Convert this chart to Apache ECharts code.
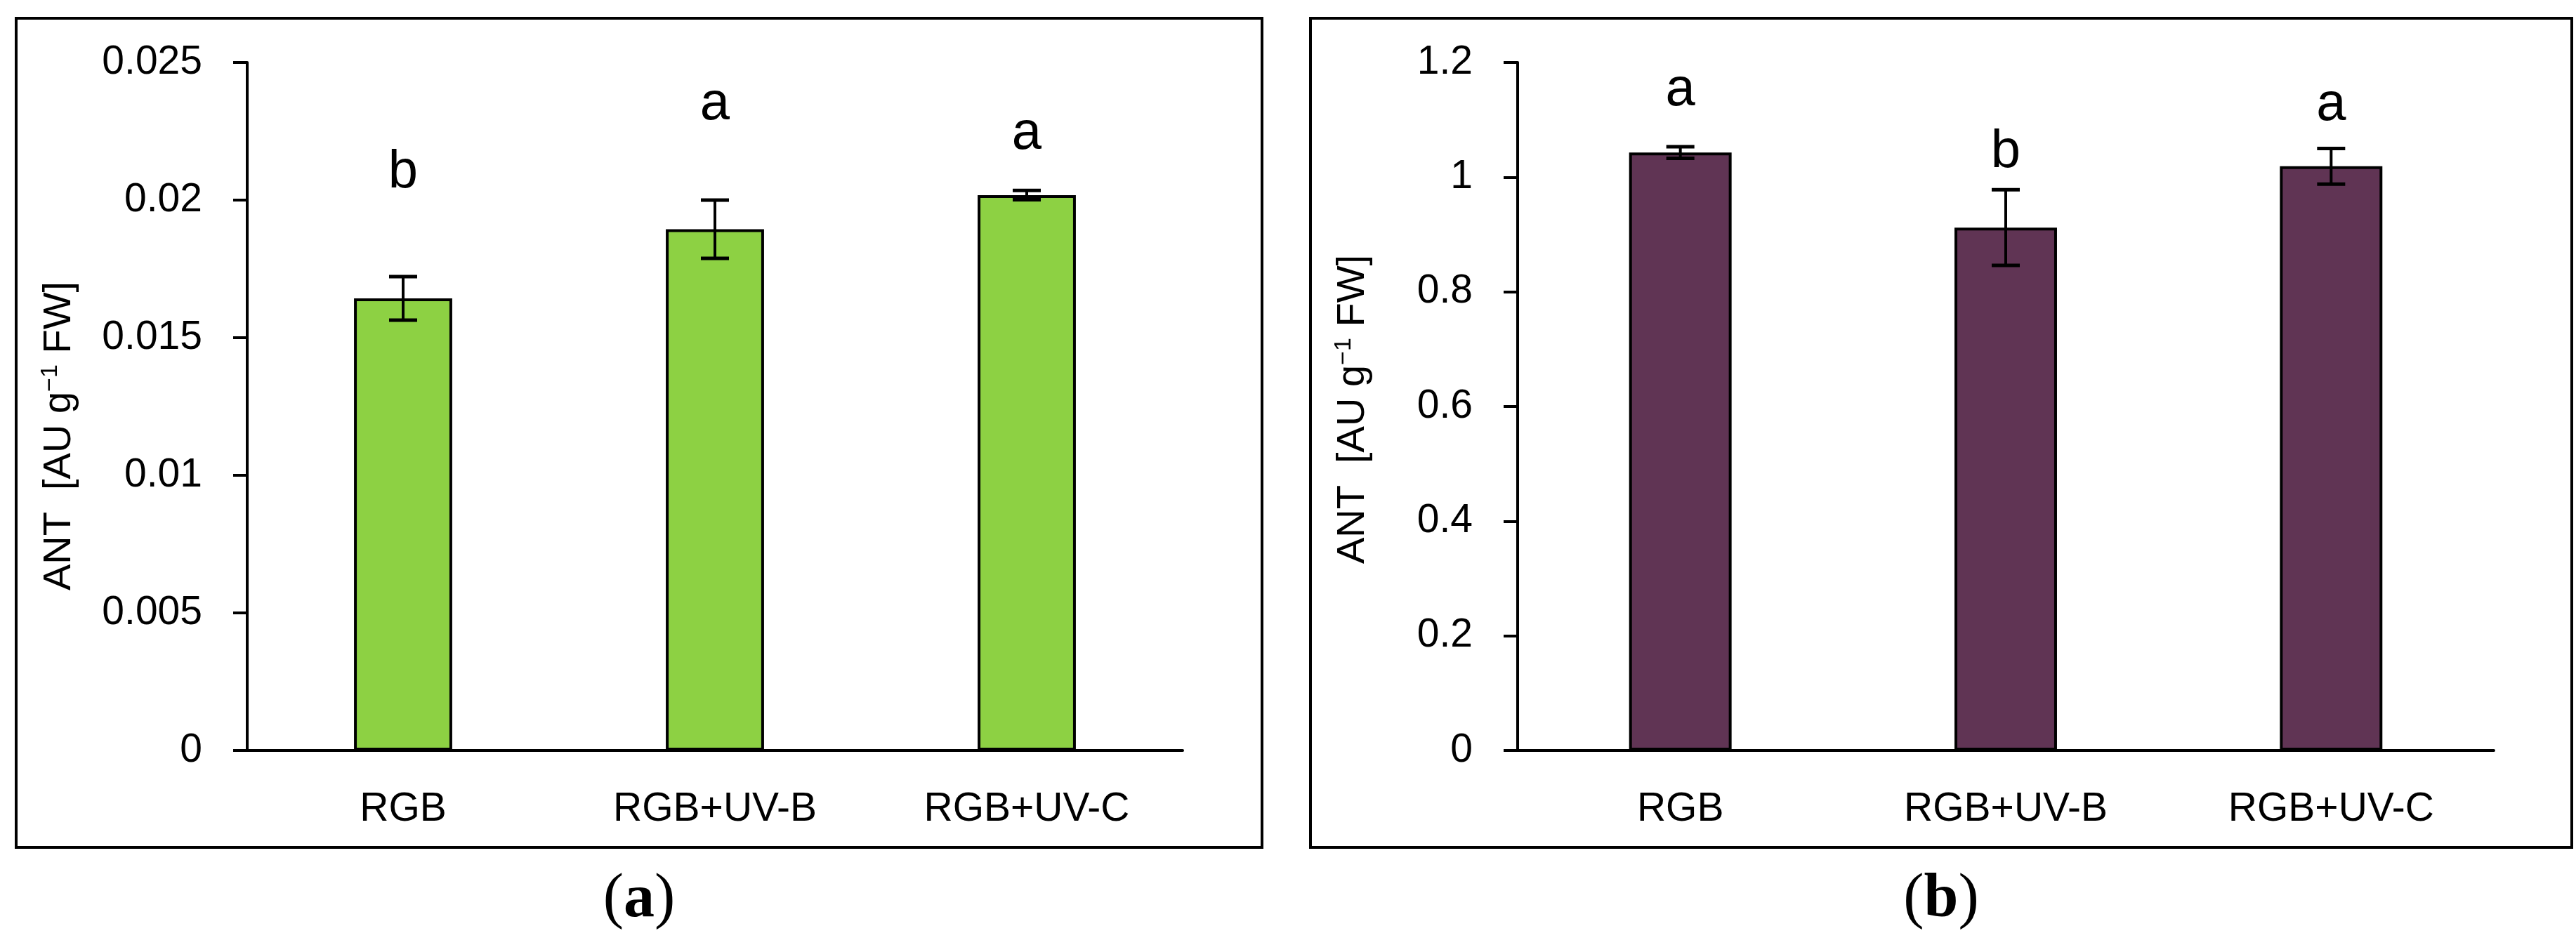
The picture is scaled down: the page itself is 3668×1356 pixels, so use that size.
<!DOCTYPE html>
<html>
<head>
<meta charset="utf-8">
<title>ANT</title>
<script src="https://cdn.jsdelivr.net/npm/echarts@6/dist/echarts.min.js"></script>
<style>
  html, body { margin: 0; padding: 0; background: #fff; }
  #main { width: 3668px; height: 1356px; }
</style>
</head>
<body>
<div id="main"></div>
<script>
// treatments
var categories = ['RGB', 'RGB+UV-B', 'RGB+UV-C'];

// panel (a)
var meanA = [0.01643, 0.01894, 0.02018];
var errA = [0.00079, 0.00106, 0.00017];
var lettersA = ['b', 'a', 'a'];
var letterYA = [0.0203, 0.02278, 0.02171];   // baseline of the letter, data units

// panel (b)
var meanB = [1.043, 0.912, 1.019];
var errB = [0.010, 0.066, 0.031];
var lettersB = ['a', 'b', 'a'];
var letterYB = [1.117, 1.010, 1.092];

var chartDom = document.getElementById('main');
var myChart = echarts.init(chartDom);
var option;

var FONT = 'Liberation Sans';
var tickFs = 57;
var letterFs = 76;

function xAxisCfg(gi) {
    return {
        type: 'category',
        gridIndex: gi,
        data: categories,
        axisLine: { lineStyle: { color: '#000', width: 4 } },
        axisTick: { show: false },
        axisLabel: { color: '#000', fontFamily: FONT, fontSize: tickFs, margin: 56 }
    };
}

function yAxisCfg(gi, max, interval) {
    return {
        type: 'value',
        gridIndex: gi,
        min: 0,
        max: max,
        interval: interval,
        splitLine: { show: false },
        axisLine: { show: true, lineStyle: { color: '#000', width: 4 } },
        axisTick: { show: true, length: 20, lineStyle: { color: '#000', width: 4 } },
        axisLabel: { color: '#000', fontFamily: FONT, fontSize: tickFs, margin: 64 }
    };
}

function errorSeries(gi, mean, err) {
    var data = mean.map(function (m, i) { return [i, m, err[i]]; });
    return {
        type: 'custom',
        xAxisIndex: gi,
        yAxisIndex: gi,
        z: 10,
        data: data,
        encode: { x: 0, y: 1 },
        renderItem: function (params, api) {
            var i = api.value(0), m = api.value(1), e = api.value(2);
            var hi = api.coord([i, m + e]);
            var lo = api.coord([i, m - e]);
            var hw = 20;
            var st = { stroke: '#000', lineWidth: 4 };
            var cap = { stroke: '#000', lineWidth: 5 };
            return {
                type: 'group',
                children: [
                    { type: 'line', shape: { x1: hi[0], y1: hi[1], x2: lo[0], y2: lo[1] }, style: st },
                    { type: 'line', shape: { x1: hi[0] - hw, y1: hi[1], x2: hi[0] + hw, y2: hi[1] }, style: cap },
                    { type: 'line', shape: { x1: lo[0] - hw, y1: lo[1], x2: lo[0] + hw, y2: lo[1] }, style: cap }
                ]
            };
        }
    };
}

function letterSeries(gi, ys, letters) {
    return {
        type: 'custom',
        xAxisIndex: gi,
        yAxisIndex: gi,
        z: 11,
        data: ys.map(function (y, i) { return [i, y]; }),
        encode: { x: 0, y: 1 },
        renderItem: function (params, api) {
            var p = api.coord([api.value(0), api.value(1)]);
            return {
                type: 'text',
                style: {
                    x: p[0],
                    y: p[1] - 0.36 * letterFs,
                    text: letters[params.dataIndex],
                    align: 'center',
                    verticalAlign: 'middle',
                    fontFamily: FONT,
                    fontSize: letterFs,
                    fill: '#000'
                }
            };
        }
    };
}

function yTitle(x, y) {
    return {
        type: 'text',
        x: x,
        y: y,
        rotation: Math.PI / 2,
        style: {
            text: '{n|ANT  [AU g}{s|−1}{n| FW]}',
            align: 'center',
            verticalAlign: 'middle',
            fill: '#000',
            rich: {
                n: { fontFamily: FONT, fontSize: 56, fill: '#000' },
                s: { fontFamily: FONT, fontSize: 34, fill: '#000', verticalAlign: 'top', lineHeight: 60 }
            }
        }
    };
}

function panelLabel(x, y, letter) {
    return {
        type: 'text',
        x: x,
        y: y,
        style: {
            text: '{p|(}{l|' + letter + '}{p|)}',
            align: 'center',
            verticalAlign: 'middle',
            rich: {
                p: { fontFamily: 'Liberation Serif', fontSize: 88, fill: '#000' },
                l: { fontFamily: 'Liberation Serif', fontSize: 88, fontWeight: 'bold', fill: '#000' }
            }
        }
    };
}

option = {
    backgroundColor: '#fff',
    animation: false,
    grid: [
        { left: 352, top: 89, width: 1332, height: 980 },
        { left: 2161, top: 89, width: 1390, height: 980 }
    ],
    xAxis: [xAxisCfg(0), xAxisCfg(1)],
    yAxis: [yAxisCfg(0, 0.025, 0.005), yAxisCfg(1, 1.2, 0.2)],
    graphic: [
        { type: 'rect', shape: { x: 23, y: 26, width: 1774, height: 1181 }, style: { fill: 'none', stroke: '#000', lineWidth: 4 } },
        { type: 'rect', shape: { x: 1866, y: 26, width: 1796, height: 1181 }, style: { fill: 'none', stroke: '#000', lineWidth: 4 } },
        yTitle(85, 621),
        yTitle(1927, 583),
        panelLabel(910, 1282, 'a'),
        panelLabel(2764, 1282, 'b')
    ],
    series: [
        {
            type: 'bar',
            xAxisIndex: 0,
            yAxisIndex: 0,
            data: meanA,
            barWidth: '31.5%',
            itemStyle: { color: '#8DD143', borderColor: '#000', borderWidth: 4 }
        },
        {
            type: 'bar',
            xAxisIndex: 1,
            yAxisIndex: 1,
            data: meanB,
            barWidth: '31.5%',
            itemStyle: { color: '#603454', borderColor: '#000', borderWidth: 4 }
        },
        errorSeries(0, meanA, errA),
        errorSeries(1, meanB, errB),
        letterSeries(0, letterYA, lettersA),
        letterSeries(1, letterYB, lettersB)
    ]
};

option && myChart.setOption(option);
</script>
</body>
</html>
